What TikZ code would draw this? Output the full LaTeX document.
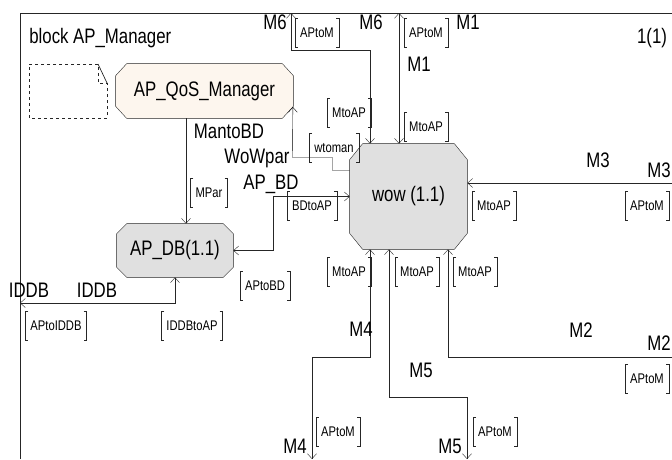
\documentclass[tikz,border=0pt]{standalone}
\usepackage{fontspec}
\setmainfont[FakeStretch=0.8]{Liberation Sans}
\usetikzlibrary{arrows.meta}
\pgfdeclarelayer{bg}
\pgfsetlayers{bg,main}
\definecolor{qosfill}{RGB}{253,246,238}
\definecolor{blockfill}{RGB}{224,224,224}
% chamfered outline behind a named node: name, fill, x cut, y cut
\newcommand{\octbox}[4]{%
  \begin{pgfonlayer}{bg}
  \filldraw[fill=#2,draw=black!85] ([xshift=#3]#1.north west) -- ([xshift=-#3]#1.north east) -- ([yshift=-#4]#1.north east)
    -- ([yshift=#4]#1.south east) -- ([xshift=-#3]#1.south east) -- ([xshift=#3]#1.south west)
    -- ([yshift=#4]#1.south west) -- ([yshift=-#4]#1.north west) -- cycle;
  \end{pgfonlayer}}

\begin{document}
\begin{tikzpicture}[x=1pt,y=-1pt,line width=0.7pt,draw=black!85,>={Straight Barb[length=5pt,width=9pt]}]
\tikzstyle{block}=[rectangle,inner sep=0pt,font=\fontsize{21}{24}\selectfont]
\tikzstyle{sig}=[inner sep=0pt,font=\fontsize{21}{24}\selectfont]
\tikzstyle{sigl}=[inner xsep=5pt,minimum height=29pt,font=\fontsize{14}{16}\selectfont,
  append after command={\pgfextra{
    \draw[black!85,line width=0.6pt] ([xshift=3pt]\tikzlastnode.north west) -| (\tikzlastnode.south west) -- ++(3pt,0);
    \draw[black!85,line width=0.6pt] ([xshift=-3pt]\tikzlastnode.north east) -| (\tikzlastnode.south east) -- ++(-3pt,0);}}]
\useasboundingbox (0,0) rectangle (672,459);

% frame of the block
\draw (20,459) -- (20,13) -- (672,13);
\node[sig,anchor=west] (title) at (29,38) {block AP\_Manager};
\node[sig] (page) at (652,38) {1(1)};

% text symbol
\draw[dashed] (98,64) -- (29,64) -- (29,118) -- (107,118) -- (107,83) -- (98,83) -- (98,64);
\draw (98,64) -- (107,83);

% processes
\node[block,minimum width=177pt,minimum height=54pt] (qos) at (204.5,91) {AP\_QoS\_Manager};
\node[block,minimum width=116pt,minimum height=53pt] (db) at (175,250.5) {AP\_DB(1.1)};
\node[block,minimum width=117pt,minimum height=105pt] (wow) at (408.5,196.5) {wow (1.1)};
\octbox{qos}{qosfill}{11pt}{12pt}
\octbox{db}{blockfill}{10pt}{10pt}
\octbox{wow}{blockfill}{13pt}{16pt}

% ports on the frame
\coordinate (m6p) at (291,13);
\coordinate (m1p) at (399,13);
\coordinate (m3p) at (672,183);
\coordinate (m2p) at (672,357);
\coordinate (m4p) at (312,459);
\coordinate (m5p) at (467,459);
\coordinate (iddbp) at (20,303);

% signal routes
\draw[->] ([xshift=-18.5pt]qos.south) -- ([xshift=11pt]db.north);
\draw[->,draw=black] ([yshift=26pt]wow.west) -- (332.5,170.5) |- (292.5,157.5) -- ([xshift=-0.5pt,yshift=-16pt]qos.east);
\draw[<->] (db.east) -- ++(40,0) |- (wow.west);
\draw[<->] (iddbp) -| (db.south);
\draw[<->] (m6p) -- ++(0,37) -| ([xshift=-38.5pt]wow.north);
\draw[<->] (m1p) -- (m1p |- wow.north);
\draw[->] (m3p) -- (wow.east |- m3p);
\draw[<->] ([xshift=-38.5pt]wow.south) -- ++(0,108) -| (m4p);
\draw[<->] ([xshift=-19.5pt]wow.south) -- ++(0,148) -| (m5p);
\draw[<-] ([xshift=39.5pt]wow.south) |- (m2p);

% route names
\node[sig] (mantobd) at (229,131) {MantoBD};
\node[sig] (wowpar) at (257,158) {WoWpar};
\node[sig] (apbd) at (271,184) {AP\_BD};
\node[sig] (iddbo) at (29,290) {IDDB};
\node[sig] (iddbi) at (97,290) {IDDB};
\node[sig] (m6o) at (275,22) {M6};
\node[sig] (m6i) at (371,22) {M6};
\node[sig] (m1o) at (468,22) {M1};
\node[sig] (m1i) at (419,64) {M1};
\node[sig] (m3i) at (598,160) {M3};
\node[sig] (m3o) at (659,170) {M3};
\node[sig] (m4i) at (361,329) {M4};
\node[sig] (m5i) at (421,370) {M5};
\node[sig] (m2i) at (581,330) {M2};
\node[sig] (m2o) at (659,343) {M2};
\node[sig] (m4o) at (295,446) {M4};
\node[sig] (m5o) at (450,446) {M5};

% signal lists
\node[sigl] (lmpar) at (209,193) {MPar};
\node[sigl] (lwtoman) at (334,148) {wtoman};
\node[sigl] (lbdtoap) at (312,206) {BDtoAP};
\node[sigl] (laptobd) at (265,286) {APtoBD};
\node[sigl] (laptoiddb) at (56,326) {APtoIDDB};
\node[sigl] (liddbtoap) at (192,326) {IDDBtoAP};
\node[sigl] (laptom6) at (317,33) {APtoM};
\node[sigl] (laptom1) at (426,33) {APtoM};
\node[sigl] (lmtoap6) at (349,113) {MtoAP};
\node[sigl] (lmtoap1) at (426,127) {MtoAP};
\node[sigl] (lmtoap3) at (494,206) {MtoAP};
\node[sigl] (laptom3) at (647,206) {APtoM};
\node[sigl] (lmtoap4) at (349,272) {MtoAP};
\node[sigl] (lmtoap5) at (417,272) {MtoAP};
\node[sigl] (lmtoap2) at (475,272) {MtoAP};
\node[sigl] (laptom2) at (647,379) {APtoM};
\node[sigl] (laptom4) at (338,432) {APtoM};
\node[sigl] (laptom5) at (495,432) {APtoM};
\end{tikzpicture}
\end{document}
